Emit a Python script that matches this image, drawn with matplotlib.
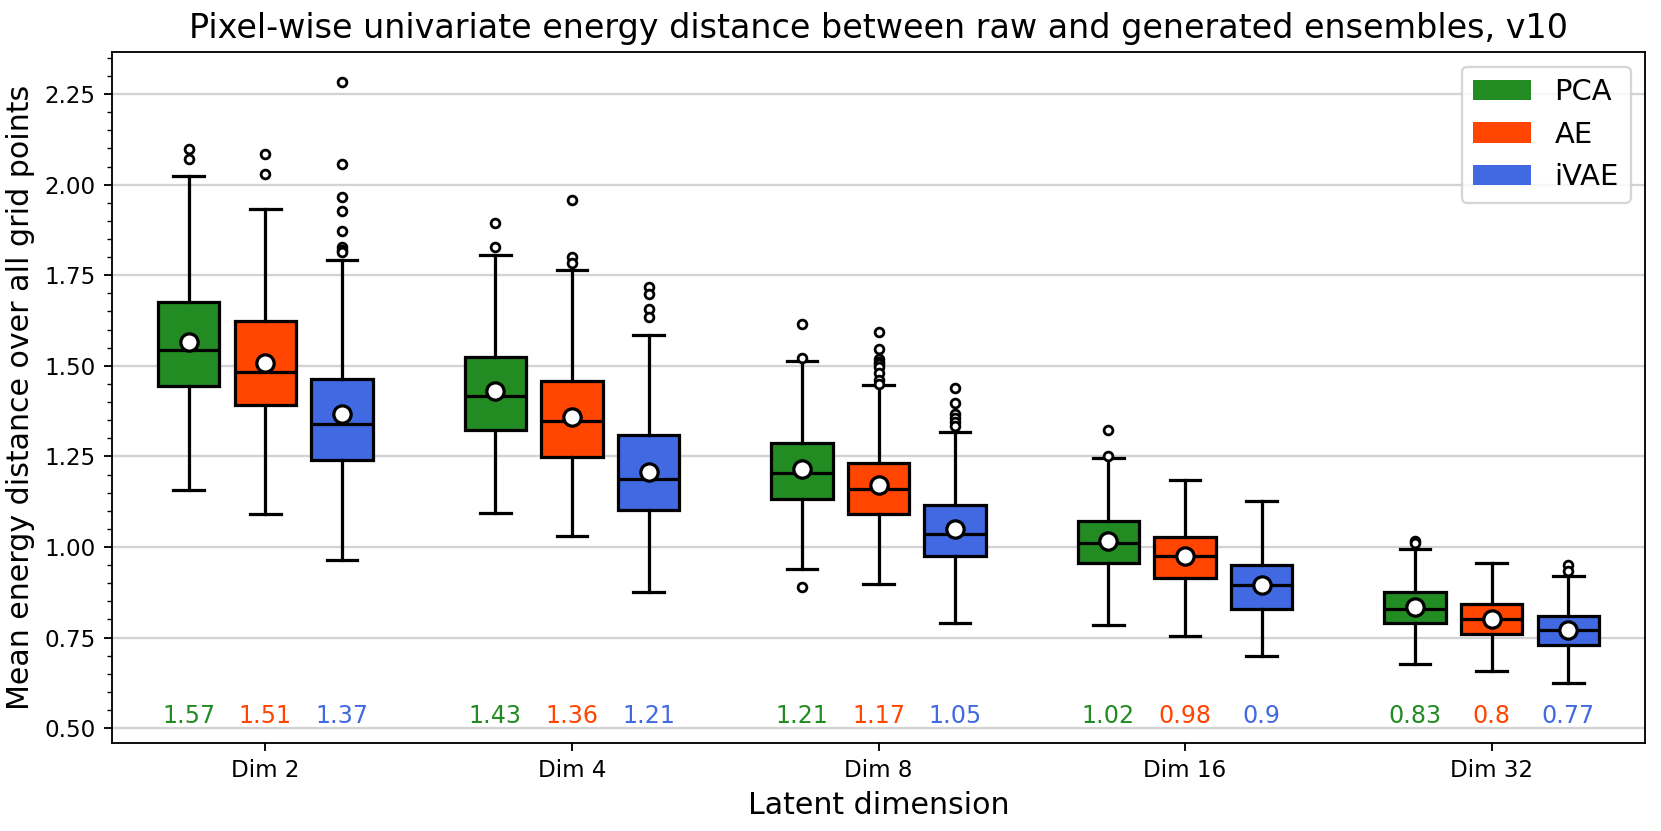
import numpy as np
import matplotlib
matplotlib.use("Agg")
import matplotlib.pyplot as plt
from matplotlib.patches import Patch
from matplotlib.ticker import MultipleLocator

dims = ["Dim 2", "Dim 4", "Dim 8", "Dim 16", "Dim 32"]
models = ["PCA", "AE", "iVAE"]
colors = ["forestgreen", "orangered", "royalblue"]

# box statistics, one list per model, one entry per dim
whislo = {
    "PCA":  [1.157, 1.093, 0.938, 0.784, 0.678],
    "AE":   [1.092, 1.030, 0.897, 0.754, 0.659],
    "iVAE": [0.963, 0.875, 0.789, 0.698, 0.625],
}
q1 = {
    "PCA":  [1.445, 1.324, 1.132, 0.956, 0.790],
    "AE":   [1.392, 1.248, 1.090, 0.915, 0.760],
    "iVAE": [1.240, 1.101, 0.975, 0.829, 0.730],
}
med = {
    "PCA":  [1.544, 1.416, 1.205, 1.012, 0.830],
    "AE":   [1.484, 1.348, 1.161, 0.974, 0.800],
    "iVAE": [1.340, 1.187, 1.037, 0.894, 0.771],
}
q3 = {
    "PCA":  [1.677, 1.524, 1.286, 1.072, 0.875],
    "AE":   [1.623, 1.459, 1.232, 1.027, 0.842],
    "iVAE": [1.464, 1.309, 1.115, 0.950, 0.809],
}
whishi = {
    "PCA":  [2.024, 1.805, 1.514, 1.245, 0.994],
    "AE":   [1.933, 1.764, 1.446, 1.186, 0.956],
    "iVAE": [1.791, 1.585, 1.318, 1.127, 0.919],
}
means = {
    "PCA":  [1.566, 1.430, 1.214, 1.017, 0.834],
    "AE":   [1.507, 1.358, 1.170, 0.976, 0.802],
    "iVAE": [1.367, 1.207, 1.050, 0.896, 0.770],
}
fliers = {
    "PCA": [[2.097, 2.070], [1.893, 1.829], [1.615, 1.522, 0.890], [1.322, 1.250], [1.016, 1.010]],
    "AE": [[2.085, 2.030], [1.957, 1.799, 1.784], [1.594, 1.545, 1.519, 1.511, 1.504, 1.497, 1.481, 1.462, 1.451], [], []],
    "iVAE": [[2.282, 2.057, 1.967, 1.926, 1.871, 1.829, 1.820, 1.813], [1.718, 1.697, 1.656, 1.635],
             [1.439, 1.396, 1.366, 1.355, 1.344, 1.333], [], [0.950, 0.935]],
}

fig, ax = plt.subplots(figsize=(1661/166.1, 831/166.1), dpi=166.1)
fig.subplots_adjust(left=0.0674, right=0.9904, top=0.9374, bottom=0.1059)

offsets = [-0.25, 0.0, 0.25]
x = np.arange(len(dims))
for k, m in enumerate(models):
    stats = []
    for i in range(len(dims)):
        stats.append(dict(whislo=whislo[m][i], q1=q1[m][i], med=med[m][i], q3=q3[m][i],
                          whishi=whishi[m][i], mean=means[m][i], fliers=fliers[m][i]))
    ax.bxp(stats, positions=x + offsets[k], widths=0.2, showmeans=True, patch_artist=True,
           boxprops=dict(facecolor=colors[k], edgecolor="black", linewidth=1.4),
           medianprops=dict(color="black", linewidth=1.4),
           whiskerprops=dict(color="black", linewidth=1.4),
           capprops=dict(color="black", linewidth=1.4),
           flierprops=dict(marker="o", markersize=3.8, markerfacecolor="white",
                           markeredgecolor="black", markeredgewidth=1.2),
           meanprops=dict(marker="o", markersize=7.5, markerfacecolor="white",
                          markeredgecolor="black", markeredgewidth=1.4))
    for i in range(len(dims)):
        ax.text(x[i] + offsets[k], 0.5, str(round(means[m][i], 2)), color=colors[k],
                ha="center", va="bottom", fontsize=10.3)

ax.set_xlim(-0.5, len(dims) - 0.5)
ax.set_ylim(0.459, 2.366)
ax.set_xticks(x)
ax.set_xticklabels(dims, fontsize=10)
ax.tick_params(axis="y", labelsize=10)
ax.yaxis.set_major_locator(MultipleLocator(0.25))
ax.yaxis.set_minor_locator(MultipleLocator(0.05))
ax.yaxis.set_major_formatter(matplotlib.ticker.FormatStrFormatter("%.2f"))
ax.grid(axis="y", color="lightgrey", linewidth=1)
ax.set_axisbelow(True)

ax.set_title("Pixel-wise univariate energy distance between raw and generated ensembles, v10", fontsize=14.5)
ax.set_xlabel("Latent dimension", fontsize=13)
ax.set_ylabel("Mean energy distance over all grid points", fontsize=13)

handles = [Patch(facecolor=c, label=m) for m, c in zip(models, colors)]
ax.legend(handles=handles, loc="upper right", fontsize=12.6)

fig.savefig("out.png", dpi=166.1)
